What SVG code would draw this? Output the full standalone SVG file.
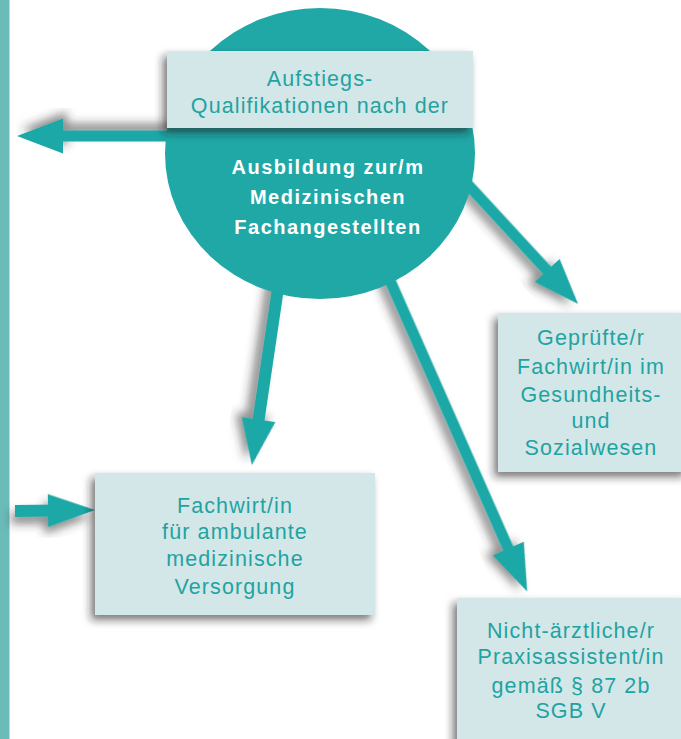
<svg xmlns="http://www.w3.org/2000/svg" width="681" height="739" viewBox="0 0 681 739">
<defs>
<style>
.arrow{fill:#1fa8a6;filter:url(#sh)}
.box{fill:#d3e7e9;filter:url(#shb)}
.t{font-family:"Liberation Sans",Arial,sans-serif;font-size:21.5px;letter-spacing:1.1px;fill:#1fa3a1;text-anchor:middle}
.tb{font-family:"Liberation Sans",Arial,sans-serif;font-size:20px;letter-spacing:1.5px;font-weight:bold;fill:#ffffff;text-anchor:middle}
</style>
<filter id="sh" x="-30%" y="-30%" width="160%" height="160%">
<feDropShadow dx="-4" dy="7" stdDeviation="5" flood-color="#333" flood-opacity="0.55"/>
</filter>
<filter id="shb" x="-20%" y="-20%" width="140%" height="140%">
<feDropShadow dx="-4" dy="5" stdDeviation="4" flood-color="#222" flood-opacity="0.6"/>
</filter>
</defs>
<rect x="0" y="0" width="681" height="739" fill="#ffffff"/>
<rect x="0" y="0" width="9.5" height="739" fill="#6bbbbb"/>
<g id="connectors">
<path class="arrow" transform="translate(320,136) rotate(180)" d="M0,-5.5 L257,-5.5 L257,-17.5 L303,0 L257,17.5 L257,5.5 L0,5.5 Z"/>
<path class="arrow" transform="translate(15,511) rotate(-0.7)" d="M0,-6 L33,-6 L33,-16.5 L80,0 L33,16.5 L33,6 L0,6 Z"/>
<path class="arrow" transform="translate(291,200) rotate(98.4)" d="M0,-6 L222,-6 L222,-17 L268,0 L222,17 L222,6 L0,6 Z"/>
<path class="arrow" transform="translate(354.5,200) rotate(66.2)" d="M0,-5.5 L381,-5.5 L381,-17 L428,0 L381,17 L381,5.5 L0,5.5 Z"/>
<path class="arrow" transform="translate(400,111) rotate(47.3)" d="M0,-5.5 L217,-5.5 L217,-17 L262.6,0 L217,17 L217,5.5 L0,5.5 Z"/>
</g>
<g id="center">
<ellipse cx="320" cy="153.5" rx="155" ry="145.5" fill="#1fa8a6"/>
<text class="tb" x="328" y="174">Ausbildung zur/m</text>
<text class="tb" x="328" y="204">Medizinischen</text>
<text class="tb" x="328" y="234">Fachangestellten</text>
</g>
<g id="aufstieg">
<rect class="box" x="167" y="51" width="306" height="77"/>
<text class="t" x="320" y="86">Aufstiegs-</text>
<text class="t" x="320" y="113">Qualifikationen nach der</text>
</g>
<g id="fachwirt-gesundheit">
<rect class="box" x="498" y="313" width="190" height="159"/>
<text class="t" x="591" y="345">Geprüfte/r</text>
<text class="t" x="591" y="374">Fachwirt/in im</text>
<text class="t" x="591" y="402">Gesundheits-</text>
<text class="t" x="591" y="428">und</text>
<text class="t" x="591" y="455">Sozialwesen</text>
</g>
<g id="fachwirt-ambulant">
<rect class="box" x="95" y="473" width="280" height="142"/>
<text class="t" x="235" y="513">Fachwirt/in</text>
<text class="t" x="235" y="539">für ambulante</text>
<text class="t" x="235" y="566">medizinische</text>
<text class="t" x="235" y="594">Versorgung</text>
</g>
<g id="praxisassistent">
<rect class="box" x="457" y="598" width="230" height="150"/>
<text class="t" x="571" y="638">Nicht-ärztliche/r</text>
<text class="t" x="571" y="664">Praxisassistent/in</text>
<text class="t" x="571" y="693">gemäß § 87 2b</text>
<text class="t" x="571" y="718">SGB V</text>
</g>
</svg>
